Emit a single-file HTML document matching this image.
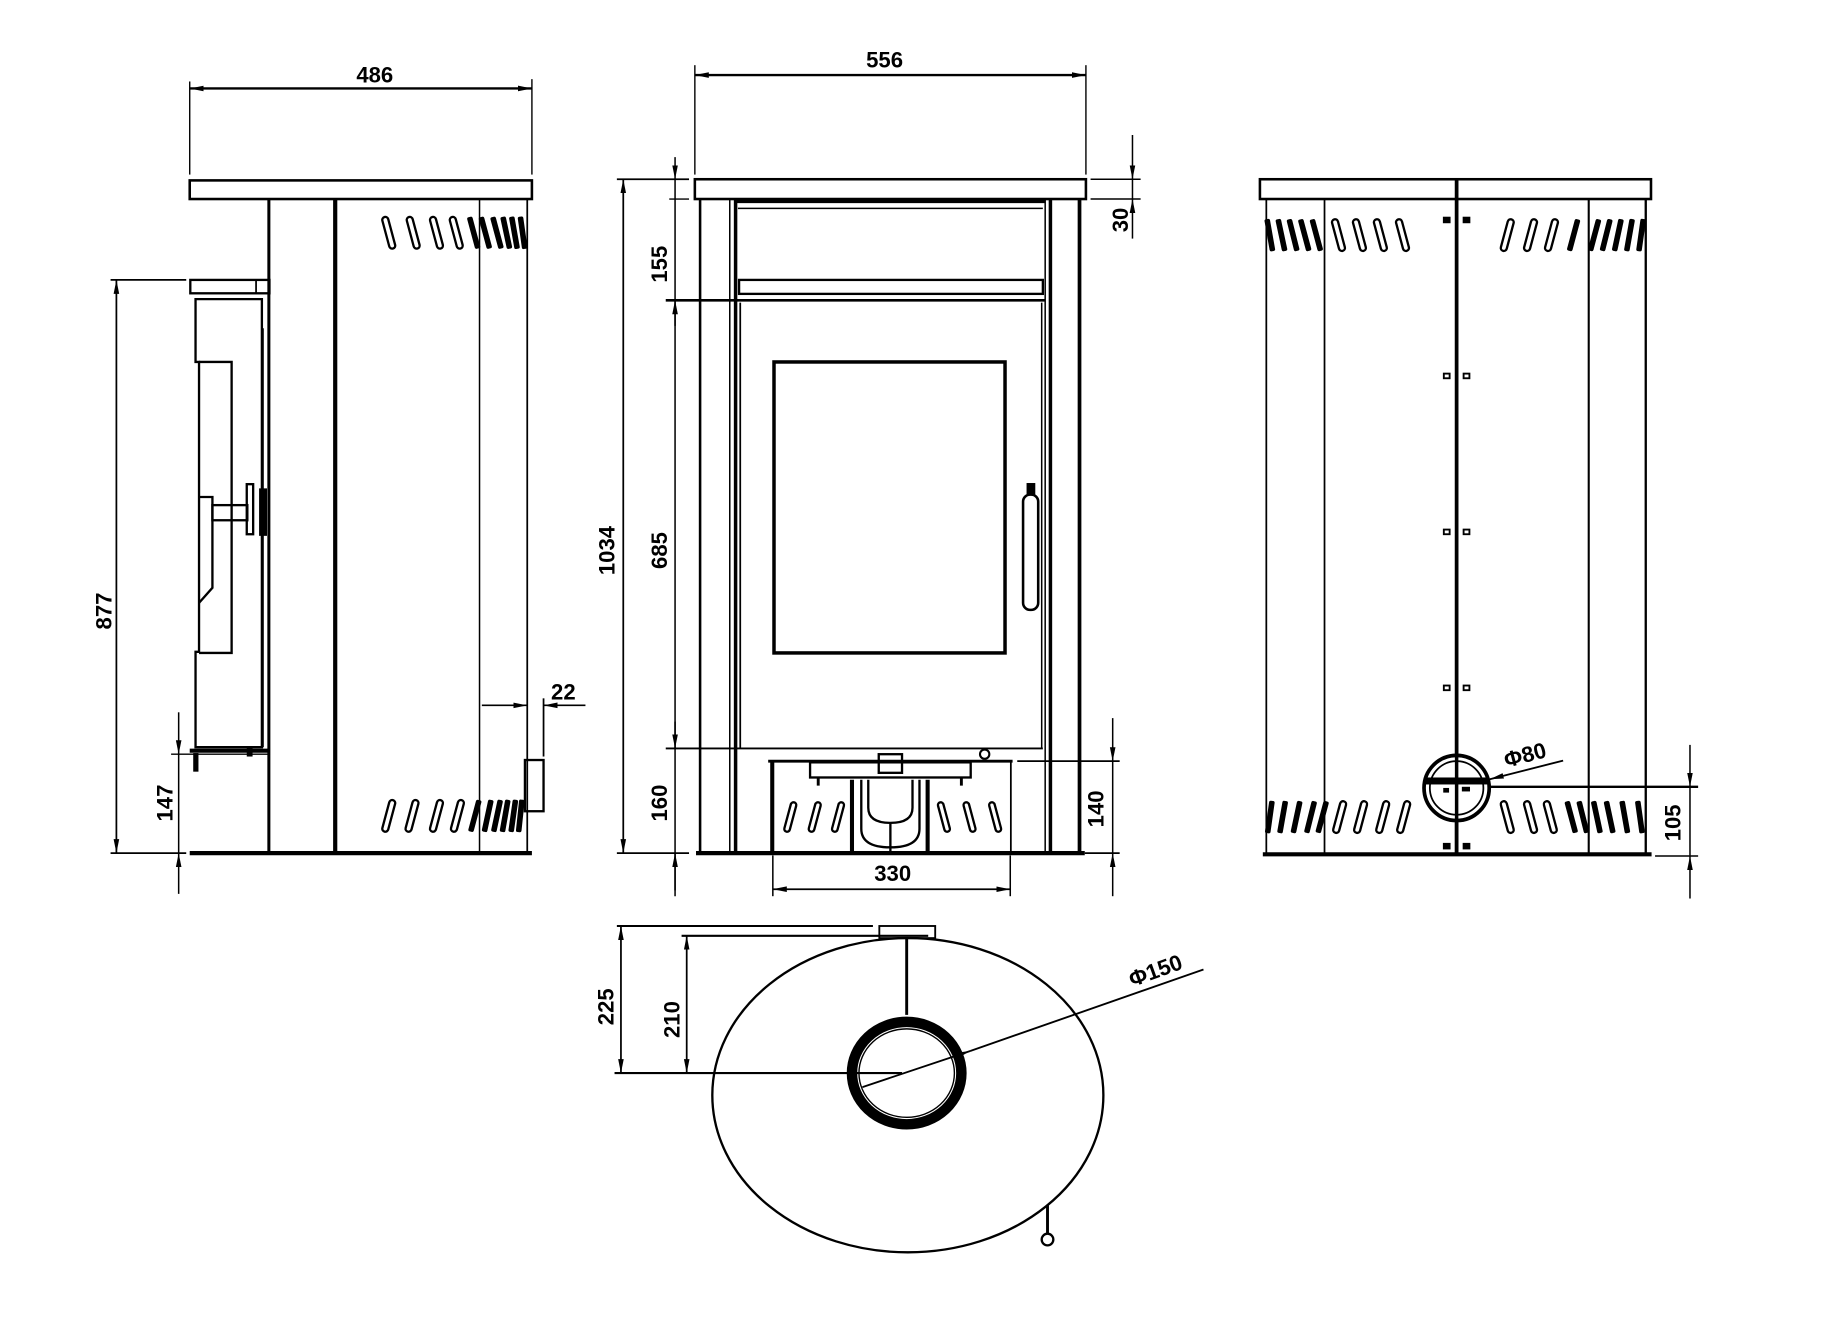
<!DOCTYPE html>
<html><head><meta charset="utf-8"><style>
html,body{margin:0;padding:0;background:#fff;}
svg{display:block;}
text{font-family:"Liberation Sans",sans-serif;font-weight:bold;font-size:19px;fill:#000;}
</style></head><body>
<svg width="1825" height="1328" viewBox="0 0 1568 1141" xmlns="http://www.w3.org/2000/svg">
<defs>
<marker id="ar" markerUnits="userSpaceOnUse" markerWidth="12" markerHeight="6" refX="12" refY="3" orient="auto-start-reverse"><path d="M0,0.6 L12,3 L0,5.4 Z" fill="#000"/></marker>
<g id="vo"><rect x="-2.6" y="-14" width="5.2" height="28" rx="2.6" fill="#fff" stroke="#000" stroke-width="2"/></g>
<g id="vf"><rect x="-2.4" y="-14" width="4.8" height="28" rx="1.5" fill="#000"/></g>
<g id="vs"><rect x="-2.4" y="-13" width="4.8" height="26" rx="2.4" fill="#fff" stroke="#000" stroke-width="2"/></g>
</defs>
<g stroke="#000" fill="none" stroke-linecap="butt">

<!-- ================= LEFT (SIDE) VIEW ================= -->
<!-- 486 dim -->
<line x1="163" y1="70" x2="163" y2="150" stroke-width="1.2"/>
<line x1="457" y1="68" x2="457" y2="150" stroke-width="1.2"/>
<line x1="163" y1="76" x2="457" y2="76" stroke-width="2" marker-start="url(#ar)" marker-end="url(#ar)"/>
<!-- slab -->
<rect x="163" y="155" width="294" height="16" stroke-width="2.2"/>
<!-- body verticals -->
<line x1="231" y1="171" x2="231" y2="733" stroke-width="2.6"/>
<line x1="288" y1="171" x2="288" y2="733" stroke-width="3.6"/>
<line x1="412" y1="171" x2="412" y2="733" stroke-width="1.3"/>
<line x1="453" y1="171" x2="453" y2="733" stroke-width="1.5"/>
<line x1="163" y1="733" x2="457" y2="733" stroke-width="3.6"/>
<!-- ledge & door -->
<rect x="163.5" y="240.5" width="68" height="11.5" stroke-width="2"/>
<line x1="220" y1="240.5" x2="220" y2="252" stroke-width="1.5"/>
<path d="M168,257 H225 V642 H168 V560 H171 V311 H168 Z" stroke-width="2"/>
<path d="M171,311 H199 V561 H171" stroke-width="2"/>
<path d="M171,427 H182.5 V505 L171,518" stroke-width="2"/>
<rect x="182.5" y="434" width="30" height="13" stroke-width="2"/>
<rect x="212" y="416" width="5.5" height="43" stroke-width="2"/>
<line x1="226" y1="282" x2="226" y2="642" stroke-width="1.3"/>
<rect x="223" y="420" width="6" height="40" fill="#000" stroke-width="0.8"/>
<line x1="163" y1="645" x2="232" y2="645" stroke-width="3.5"/>
<rect x="166" y="647" width="4.5" height="16" fill="#000" stroke="none"/>
<rect x="212" y="642" width="5" height="8" fill="#000" stroke="none"/>
<!-- foot at right -->
<rect x="451" y="653" width="16" height="44" stroke-width="2"/>
<!-- 877 dim -->
<line x1="95" y1="240.5" x2="160" y2="240.5" stroke-width="1.5"/>
<line x1="95" y1="733" x2="160" y2="733" stroke-width="1.5"/>
<line x1="100" y1="240.5" x2="100" y2="733" stroke-width="1.5" marker-start="url(#ar)" marker-end="url(#ar)"/>
<!-- 147 dim -->
<line x1="147" y1="648" x2="232" y2="648" stroke-width="1.2"/>
<line x1="153.5" y1="612" x2="153.5" y2="648" stroke-width="1.3" marker-end="url(#ar)"/>
<line x1="153.5" y1="648" x2="153.5" y2="733" stroke-width="1.3"/>
<line x1="153.5" y1="768" x2="153.5" y2="733" stroke-width="1.3" marker-end="url(#ar)"/>
<!-- 22 dim -->
<line x1="414" y1="606" x2="453" y2="606" stroke-width="1.3" marker-end="url(#ar)"/>
<line x1="503" y1="606" x2="467" y2="606" stroke-width="1.3" marker-end="url(#ar)"/>
<line x1="467" y1="600" x2="467" y2="650" stroke-width="1.5"/>

<!-- ================= FRONT VIEW ================= -->
<line x1="597" y1="56" x2="597" y2="150" stroke-width="1.2"/>
<line x1="933" y1="56" x2="933" y2="150" stroke-width="1.2"/>
<line x1="597" y1="64.5" x2="933" y2="64.5" stroke-width="2" marker-start="url(#ar)" marker-end="url(#ar)"/>
<rect x="597" y="154" width="336" height="17" stroke-width="2.2"/>
<line x1="601.5" y1="171" x2="601.5" y2="733" stroke-width="2.2"/>
<line x1="627" y1="171" x2="627" y2="733" stroke-width="1.3"/>
<line x1="632" y1="171" x2="632" y2="733" stroke-width="3"/>
<line x1="898" y1="171" x2="898" y2="733" stroke-width="1.3"/>
<line x1="902.5" y1="171" x2="902.5" y2="733" stroke-width="3"/>
<line x1="927.5" y1="171" x2="927.5" y2="733" stroke-width="3.2"/>
<line x1="632" y1="173" x2="898" y2="173" stroke-width="3"/>
<line x1="634" y1="179" x2="896" y2="179" stroke-width="1.3"/>
<rect x="635" y="240.5" width="261" height="12" stroke-width="2"/>
<line x1="572" y1="258" x2="898" y2="258" stroke-width="2.2"/>
<line x1="636" y1="260" x2="636" y2="643" stroke-width="1.5"/>
<line x1="895" y1="260" x2="895" y2="643" stroke-width="1.3"/>
<rect x="665" y="311" width="198.5" height="250" stroke-width="3"/>
<rect x="879" y="425" width="13" height="99" rx="6" stroke-width="2.2"/>
<rect x="882" y="415" width="7.5" height="10" fill="#000" stroke="none"/>
<line x1="572" y1="643" x2="896" y2="643" stroke-width="1.6"/>
<line x1="598" y1="733" x2="932" y2="733" stroke-width="3.6"/>
<!-- ash drawer -->
<line x1="660" y1="654" x2="870" y2="654" stroke-width="2.5"/>
<line x1="663.5" y1="654" x2="663.5" y2="733" stroke-width="3.5"/>
<line x1="868.5" y1="654" x2="868.5" y2="733" stroke-width="1.5"/>
<rect x="696" y="655" width="138" height="13" stroke-width="2"/>
<rect x="755" y="648" width="20" height="16" stroke-width="2"/>
<line x1="703" y1="668" x2="703" y2="675" stroke-width="2.5"/>
<line x1="826" y1="668" x2="826" y2="675" stroke-width="2.5"/>
<line x1="732" y1="670" x2="732" y2="733" stroke-width="3.5"/>
<line x1="797" y1="670" x2="797" y2="733" stroke-width="3.5"/>
<path d="M740,670 V712 Q740,728 765,728 Q790,728 790,712 V670" stroke-width="2"/>
<path d="M746,670 V694 Q746,707 765,707 Q784,707 784,694 V670" stroke-width="2"/>
<line x1="765" y1="707" x2="765" y2="733" stroke-width="2"/>
<circle cx="846" cy="648" r="4" stroke-width="1.8"/>
<use href="#vs" transform="translate(679 702) rotate(15)"/>
<use href="#vs" transform="translate(700 702) rotate(15)"/>
<use href="#vs" transform="translate(720 702) rotate(15)"/>
<use href="#vs" transform="translate(811 702) rotate(-15)"/>
<use href="#vs" transform="translate(833 702) rotate(-15)"/>
<use href="#vs" transform="translate(855 702) rotate(-15)"/>
<!-- 1034 dim -->
<line x1="530" y1="154" x2="592" y2="154" stroke-width="1.5"/>
<line x1="530" y1="733" x2="592" y2="733" stroke-width="1.5"/>
<line x1="535.5" y1="154" x2="535.5" y2="733" stroke-width="1.5" marker-start="url(#ar)" marker-end="url(#ar)"/>
<!-- 155 / 685 / 160 chain -->
<line x1="575" y1="171" x2="592" y2="171" stroke-width="1.2"/>
<line x1="580" y1="135" x2="580" y2="154" stroke-width="1.3" marker-end="url(#ar)"/>
<line x1="580" y1="154" x2="580" y2="770" stroke-width="1.3"/>
<line x1="580" y1="280" x2="580" y2="258" stroke-width="1.3" marker-end="url(#ar)"/>
<line x1="580" y1="620" x2="580" y2="643" stroke-width="1.3" marker-end="url(#ar)"/>
<line x1="580" y1="765" x2="580" y2="733" stroke-width="1.3" marker-end="url(#ar)"/>
<!-- 30 dim -->
<line x1="937" y1="154" x2="980" y2="154" stroke-width="1.3"/>
<line x1="937" y1="171" x2="980" y2="171" stroke-width="1.3"/>
<line x1="973" y1="116" x2="973" y2="154" stroke-width="1.3" marker-end="url(#ar)"/>
<line x1="973" y1="154" x2="973" y2="171" stroke-width="1.3"/>
<line x1="973" y1="205" x2="973" y2="171" stroke-width="1.3" marker-end="url(#ar)"/>
<!-- 140 dim -->
<line x1="874" y1="654" x2="962" y2="654" stroke-width="1.5"/>
<line x1="932" y1="733" x2="962" y2="733" stroke-width="1.5"/>
<line x1="956" y1="617" x2="956" y2="654" stroke-width="1.3" marker-end="url(#ar)"/>
<line x1="956" y1="654" x2="956" y2="733" stroke-width="1.3"/>
<line x1="956" y1="770" x2="956" y2="733" stroke-width="1.3" marker-end="url(#ar)"/>
<!-- 330 dim -->
<line x1="664" y1="735" x2="664" y2="770" stroke-width="1.3"/>
<line x1="868" y1="735" x2="868" y2="770" stroke-width="1.3"/>
<line x1="664" y1="764" x2="868" y2="764" stroke-width="1.5" marker-start="url(#ar)" marker-end="url(#ar)"/>

<!-- ================= RIGHT (BACK) VIEW ================= -->
<rect x="1082.5" y="154" width="336" height="17" stroke-width="2.2"/>
<line x1="1251.5" y1="154" x2="1251.5" y2="734" stroke-width="3.2"/>
<line x1="1088" y1="171" x2="1088" y2="734" stroke-width="1.5"/>
<line x1="1138" y1="171" x2="1138" y2="734" stroke-width="1.5"/>
<line x1="1365" y1="171" x2="1365" y2="734" stroke-width="1.8"/>
<line x1="1414" y1="171" x2="1414" y2="734" stroke-width="2"/>
<line x1="1085" y1="734" x2="1419" y2="734" stroke-width="3.6"/>
<!-- bolts -->
<g stroke-width="1.6" fill="#fff">
<rect x="1240.5" y="187" width="5" height="4" fill="#000"/><rect x="1257.5" y="187" width="5" height="4" fill="#000"/>
<rect x="1240.5" y="321" width="5" height="4"/><rect x="1257.5" y="321" width="5" height="4"/>
<rect x="1240.5" y="455" width="5" height="4"/><rect x="1257.5" y="455" width="5" height="4"/>
<rect x="1240.5" y="589" width="5" height="4"/><rect x="1257.5" y="589" width="5" height="4"/>
<rect x="1240.5" y="725" width="5" height="4" fill="#000"/><rect x="1257.5" y="725" width="5" height="4" fill="#000"/>
</g>
<!-- Φ80 ring -->
<circle cx="1251.5" cy="677" r="28" stroke-width="3.2" fill="#fff"/>
<circle cx="1251.5" cy="677" r="23" stroke-width="1.5"/>
<rect x="1224" y="668" width="55" height="6" fill="#000" stroke="none"/>
<line x1="1251.5" y1="650" x2="1251.5" y2="734" stroke-width="3"/>
<rect x="1240" y="677" width="5" height="4" fill="#000" stroke="none"/>
<rect x="1256" y="676" width="7" height="4" fill="#000" stroke="none"/>
<line x1="1343" y1="653.5" x2="1280" y2="669.5" stroke-width="1.6" marker-end="url(#ar)"/>
<!-- 105 dim -->
<line x1="1280" y1="676" x2="1459" y2="676" stroke-width="2"/>
<line x1="1422" y1="735.5" x2="1459" y2="735.5" stroke-width="1.3"/>
<line x1="1452" y1="640" x2="1452" y2="676" stroke-width="1.3" marker-end="url(#ar)"/>
<line x1="1452" y1="676" x2="1452" y2="735" stroke-width="1.3"/>
<line x1="1452" y1="772" x2="1452" y2="735.5" stroke-width="1.3" marker-end="url(#ar)"/>

<!-- ================= TOP VIEW ================= -->
<ellipse cx="780" cy="941" rx="168" ry="135" stroke-width="2"/>
<ellipse cx="779" cy="922" rx="47" ry="44" stroke-width="9"/>
<ellipse cx="779" cy="922" rx="41" ry="38" stroke-width="1.2"/>
<line x1="779" y1="806" x2="779" y2="872" stroke-width="2.5"/>
<rect x="755.5" y="795.6" width="48" height="10.4" stroke-width="1.6"/>
<line x1="530" y1="795.6" x2="750" y2="795.6" stroke-width="1.8"/>
<line x1="585.6" y1="804" x2="797.5" y2="804" stroke-width="1.8"/>
<line x1="528" y1="922" x2="775" y2="922" stroke-width="1.8"/>
<line x1="533.5" y1="795.6" x2="533.5" y2="922" stroke-width="1.5" marker-start="url(#ar)" marker-end="url(#ar)"/>
<line x1="590" y1="804" x2="590" y2="922" stroke-width="1.5" marker-start="url(#ar)" marker-end="url(#ar)"/>
<line x1="741" y1="934" x2="833.6" y2="903" stroke-width="1.6" marker-end="url(#ar)"/>
<line x1="833.6" y1="903" x2="1034" y2="833" stroke-width="1.6"/>
<line x1="900" y1="1035.5" x2="900" y2="1060" stroke-width="2.5"/>
<circle cx="900" cy="1065" r="5" stroke-width="2"/>
</g>

<!-- vents: left view -->
<g>
<use href="#vo" transform="translate(334 200) rotate(-15)"/>
<use href="#vo" transform="translate(355 200) rotate(-15)"/>
<use href="#vo" transform="translate(375 200) rotate(-15)"/>
<use href="#vo" transform="translate(392 200) rotate(-15)"/>
<use href="#vf" transform="translate(407 200) rotate(-15)"/>
<use href="#vf" transform="translate(417 200) rotate(-15)"/>
<use href="#vf" transform="translate(427 200) rotate(-15)"/>
<use href="#vf" transform="translate(435 200) rotate(-12)"/>
<use href="#vf" transform="translate(442 200) rotate(-10)"/>
<use href="#vf" transform="translate(449 200) rotate(-8)"/>

<use href="#vo" transform="translate(334 701) rotate(15)"/>
<use href="#vo" transform="translate(354 701) rotate(15)"/>
<use href="#vo" transform="translate(375 701) rotate(15)"/>
<use href="#vo" transform="translate(393 701) rotate(15)"/>
<use href="#vf" transform="translate(408 701) rotate(15)"/>
<use href="#vf" transform="translate(419 701) rotate(12)"/>
<use href="#vf" transform="translate(427 701) rotate(12)"/>
<use href="#vf" transform="translate(434 701) rotate(10)"/>
<use href="#vf" transform="translate(441 701) rotate(8)"/>
<use href="#vf" transform="translate(447 701) rotate(6)"/>

<!-- right view top -->
<use href="#vf" transform="translate(1091 202) rotate(-10)"/>
<use href="#vf" transform="translate(1101 202) rotate(-12)"/>
<use href="#vf" transform="translate(1111 202) rotate(-14)"/>
<use href="#vf" transform="translate(1121 202) rotate(-15)"/>
<use href="#vf" transform="translate(1131 202) rotate(-15)"/>
<use href="#vo" transform="translate(1150 202) rotate(-15)"/>
<use href="#vo" transform="translate(1168 202) rotate(-15)"/>
<use href="#vo" transform="translate(1186 202) rotate(-15)"/>
<use href="#vo" transform="translate(1205 202) rotate(-15)"/>
<use href="#vo" transform="translate(1295 202) rotate(15)"/>
<use href="#vo" transform="translate(1315 202) rotate(15)"/>
<use href="#vo" transform="translate(1333 202) rotate(15)"/>
<use href="#vf" transform="translate(1352 202) rotate(15)"/>
<use href="#vf" transform="translate(1370 202) rotate(15)"/>
<use href="#vf" transform="translate(1380 202) rotate(14)"/>
<use href="#vf" transform="translate(1390 202) rotate(12)"/>
<use href="#vf" transform="translate(1400 202) rotate(10)"/>
<use href="#vf" transform="translate(1410 202) rotate(8)"/>

<!-- right view bottom -->
<use href="#vf" transform="translate(1091 702) rotate(8)"/>
<use href="#vf" transform="translate(1102 702) rotate(10)"/>
<use href="#vf" transform="translate(1114 702) rotate(12)"/>
<use href="#vf" transform="translate(1126 702) rotate(14)"/>
<use href="#vf" transform="translate(1136 702) rotate(15)"/>
<use href="#vo" transform="translate(1151 702) rotate(15)"/>
<use href="#vo" transform="translate(1169 702) rotate(15)"/>
<use href="#vo" transform="translate(1188 702) rotate(15)"/>
<use href="#vo" transform="translate(1206 702) rotate(15)"/>
<use href="#vo" transform="translate(1295 702) rotate(-15)"/>
<use href="#vo" transform="translate(1315 702) rotate(-15)"/>
<use href="#vo" transform="translate(1332 702) rotate(-15)"/>
<use href="#vf" transform="translate(1350 702) rotate(-15)"/>
<use href="#vf" transform="translate(1360 702) rotate(-14)"/>
<use href="#vf" transform="translate(1372 702) rotate(-12)"/>
<use href="#vf" transform="translate(1383 702) rotate(-12)"/>
<use href="#vf" transform="translate(1396 702) rotate(-10)"/>
<use href="#vf" transform="translate(1409 702) rotate(-8)"/>
</g>

<!-- labels -->
<text x="322" y="71" text-anchor="middle">486</text>
<text x="760" y="58" text-anchor="middle">556</text>
<text x="484" y="601" text-anchor="middle">22</text>
<text x="767" y="757" text-anchor="middle">330</text>
<text transform="translate(96 525) rotate(-90)" text-anchor="middle">877</text>
<text transform="translate(148 690) rotate(-90)" text-anchor="middle">147</text>
<text transform="translate(528 473) rotate(-90)" text-anchor="middle">1034</text>
<text transform="translate(573 227) rotate(-90)" text-anchor="middle">155</text>
<text transform="translate(573 473) rotate(-90)" text-anchor="middle">685</text>
<text transform="translate(573 690) rotate(-90)" text-anchor="middle">160</text>
<text transform="translate(969 189) rotate(-90)" text-anchor="middle">30</text>
<text transform="translate(948 695) rotate(-90)" text-anchor="middle">140</text>
<text transform="translate(1444 707) rotate(-90)" text-anchor="middle">105</text>
<text transform="translate(527 865) rotate(-90)" text-anchor="middle">225</text>
<text transform="translate(584 876) rotate(-90)" text-anchor="middle">210</text>
<text transform="translate(1312 655) rotate(-15)" text-anchor="middle" font-weight="normal">Φ80</text>
<text transform="translate(995 840) rotate(-20)" text-anchor="middle" font-weight="normal">Φ150</text>
</svg>
</body></html>
